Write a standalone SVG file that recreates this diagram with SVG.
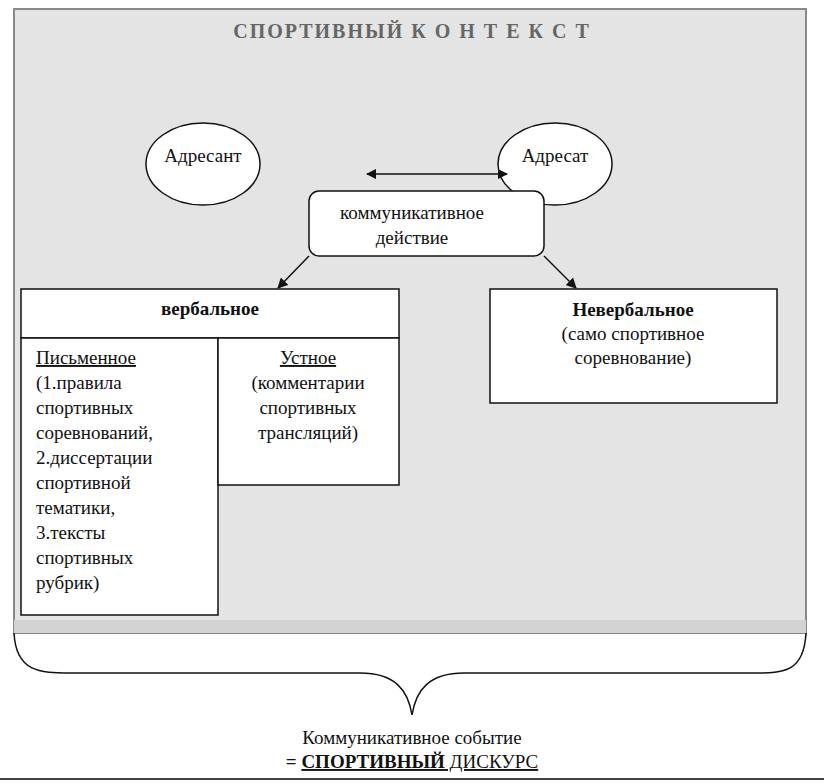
<svg xmlns="http://www.w3.org/2000/svg" width="824" height="784" viewBox="0 0 824 784">
<style>
text{font-family:"Liberation Serif","Times New Roman","DejaVu Serif",serif;fill:#111;font-size:19px}
.c{text-anchor:middle}
.b{stroke:#111;stroke-width:1.5;fill:#fff}
.l{stroke:#111;stroke-width:1.5;fill:none}
</style>
<defs><marker id="a" viewBox="0 0 10 10" refX="9" refY="5" markerWidth="7" markerHeight="7" orient="auto-start-reverse"><path d="M0,0L10,5L0,10z" fill="#111"/></marker></defs>
<rect width="824" height="784" fill="#fff"/>
<rect x="14" y="9" width="792" height="624" fill="#e4e4e4" stroke="#888" stroke-width="2"/>
<rect x="14" y="620" width="792" height="13" fill="#d2d2d2"/>
<text x="412" y="38" class="c" font-family="Liberation Serif, serif" style="fill:#666;font-weight:bold;font-size:20px;letter-spacing:2px">СПОРТИВНЫЙ К О Н Т Е К С Т</text>
<g id="adresant"><ellipse cx="203" cy="164" rx="57" ry="41" class="b"/><text x="203" y="162" class="c">Адресант</text></g>
<g id="adresat"><ellipse cx="555" cy="164" rx="57" ry="41" class="b"/><text x="555" y="162" class="c">Адресат</text></g>
<g id="action"><rect x="309" y="191" width="235" height="65" rx="10" class="b"/><text x="412" y="219" class="c">коммуникативное</text><text x="412" y="244" class="c">действие</text></g>
<g id="verbal"><rect x="21" y="289" width="378" height="49" class="b"/><text x="210" y="315" class="c" style="font-weight:bold">вербальное</text></g>
<g id="written"><rect x="21" y="338" width="197" height="277" class="b"/>
<text x="36" y="364" style="text-decoration:underline">Письменное</text>
<text x="36" y="389">(1.правила</text><text x="36" y="414">спортивных</text><text x="36" y="439">соревнований,</text><text x="36" y="464">2.диссертации</text><text x="36" y="489">спортивной</text><text x="36" y="514">тематики,</text><text x="36" y="539">3.тексты</text><text x="36" y="564">спортивных</text><text x="36" y="589">рубрик)</text></g>
<g id="oral"><rect x="218" y="338" width="181" height="147" class="b"/>
<text x="308" y="364" class="c" style="text-decoration:underline">Устное</text><text x="308" y="389" class="c">(комментарии</text><text x="308" y="414" class="c">спортивных</text><text x="308" y="439" class="c">трансляций)</text></g>
<g id="nonverbal"><rect x="490" y="289" width="287" height="114" class="b"/>
<text x="633" y="316" class="c" style="font-weight:bold">Невербальное</text><text x="633" y="340" class="c">(само спортивное</text><text x="633" y="364" class="c">соревнование)</text></g>
<g id="connectors">
<line x1="367" y1="174" x2="507" y2="174" class="l" stroke-width="2" marker-start="url(#a)" marker-end="url(#a)"/>
<line x1="309" y1="256" x2="278" y2="288" class="l" marker-end="url(#a)"/>
<line x1="544" y1="256" x2="576" y2="288" class="l" marker-end="url(#a)"/>
<path d="M14,633 C16,672 40,673 70,673 L360,673 C395,673 408,690 412,715 C416,690 429,673 464,673 L754,673 C784,673 804,672 806,633" class="l"/>
</g>
<text x="412" y="744" class="c">Коммуникативное событие</text>
<text x="412" y="768" class="c"><tspan style="font-weight:bold">= </tspan><tspan style="font-weight:bold;text-decoration:underline">СПОРТИВНЫЙ</tspan><tspan style="text-decoration:underline"> ДИСКУРС</tspan></text>
<line x1="0" y1="779" x2="824" y2="779" stroke="#444" stroke-width="2"/>
</svg>
